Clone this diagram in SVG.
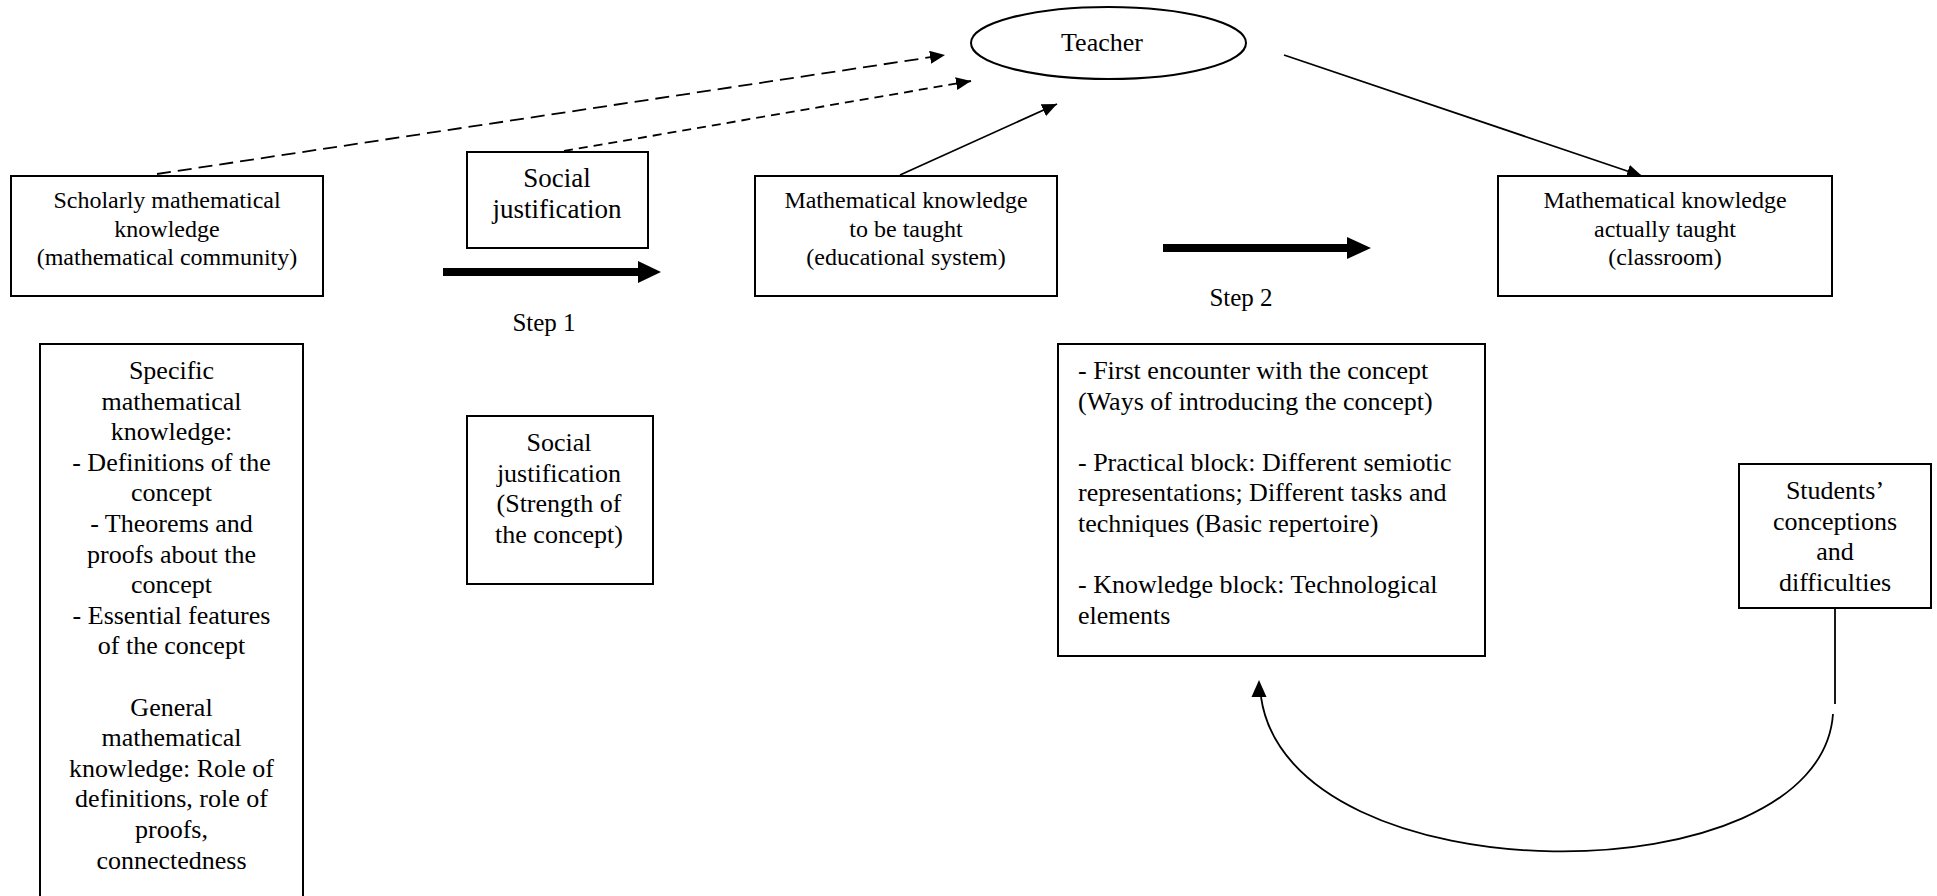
<svg xmlns="http://www.w3.org/2000/svg" width="1937" height="896" viewBox="0 0 1937 896" font-family="'Liberation Serif', 'Times New Roman', Times, serif">
<style>
text{font-family:'Liberation Serif','Times New Roman',Times,serif;fill:#000}
.box{fill:#fff;stroke:#000;stroke-width:2}
.c{text-anchor:middle}
.s24{font-size:24px}
.s25{font-size:25px}
.s26{font-size:26px}
.s27{font-size:27px}
.ln{fill:none;stroke:#000;stroke-width:1.8}
.dl{stroke-dasharray:14 7}
.ds{stroke-dasharray:9 6}
</style>
<defs>
<marker id="ah" markerUnits="userSpaceOnUse" markerWidth="16" markerHeight="13" refX="15" refY="6.5" orient="auto">
<path d="M0,0 L15,6.5 L0,13 z" fill="#000"/>
</marker>
</defs>
<rect width="1937" height="896" fill="#fff"/>

<g id="connectors">
<line class="ln dl" x1="157" y1="174" x2="945" y2="55" marker-end="url(#ah)"/>
<line class="ln ds" x1="564" y1="151" x2="971" y2="81" marker-end="url(#ah)"/>
<line class="ln" x1="900" y1="175" x2="1057" y2="104" marker-end="url(#ah)"/>
<line class="ln" x1="1284" y1="55" x2="1642" y2="176" marker-end="url(#ah)"/>
<path id="step1-arrow" d="M443,268 L638,268 L638,261 L661,272 L638,283 L638,276 L443,276 z" fill="#000"/>
<path id="step2-arrow" d="M1163,244 L1347,244 L1347,237 L1371,248 L1347,259 L1347,252 L1163,252 z" fill="#000"/>
<line class="ln" x1="1835" y1="608" x2="1835" y2="704"/>
<path class="ln" d="M1833,714 C1820,900 1290,900 1261,697"/>
<polygon points="1259,680 1251.5,697 1266.5,697" fill="#000"/>
</g>

<g id="teacher">
<ellipse cx="1108.5" cy="43" rx="137.5" ry="36" fill="#fff" stroke="#000" stroke-width="2"/>
<text class="c s26" x="1102" y="51">Teacher</text>
</g>

<g id="scholarly">
<rect class="box" x="11" y="176" width="312" height="120"/>
<text class="c s24" x="167" y="208">Scholarly mathematical</text>
<text class="c s24" x="167" y="236.5">knowledge</text>
<text class="c s24" x="167" y="265">(mathematical community)</text>
</g>

<g id="social-top">
<rect class="box" x="467" y="152" width="181" height="96"/>
<text class="c s27" x="557" y="187">Social</text>
<text class="c s27" x="557" y="218">justification</text>
</g>

<g id="to-be-taught">
<rect class="box" x="755" y="176" width="302" height="120"/>
<text class="c s24" x="906" y="208">Mathematical knowledge</text>
<text class="c s24" x="906" y="236.5">to be taught</text>
<text class="c s24" x="906" y="265">(educational system)</text>
</g>

<g id="actually-taught">
<rect class="box" x="1498" y="176" width="334" height="120"/>
<text class="c s24" x="1665" y="208">Mathematical knowledge</text>
<text class="c s24" x="1665" y="236.5">actually taught</text>
<text class="c s24" x="1665" y="265">(classroom)</text>
</g>

<g id="step-labels">
<text class="c s25" x="544" y="331">Step 1</text>
<text class="c s25" x="1241" y="306">Step 2</text>
</g>

<g id="specific-knowledge">
<rect class="box" x="40" y="344" width="263" height="560"/>
<text class="c s26" x="171.5" y="379">Specific</text>
<text class="c s26" x="171.5" y="409.6">mathematical</text>
<text class="c s26" x="171.5" y="440.2">knowledge:</text>
<text class="c s26" x="171.5" y="470.8">- Definitions of the</text>
<text class="c s26" x="171.5" y="501.4">concept</text>
<text class="c s26" x="171.5" y="532">- Theorems and</text>
<text class="c s26" x="171.5" y="562.6">proofs about the</text>
<text class="c s26" x="171.5" y="593.2">concept</text>
<text class="c s26" x="171.5" y="623.8">- Essential features</text>
<text class="c s26" x="171.5" y="654.4">of the concept</text>
<text class="c s26" x="171.5" y="715.6">General</text>
<text class="c s26" x="171.5" y="746.2">mathematical</text>
<text class="c s26" x="171.5" y="776.8">knowledge: Role of</text>
<text class="c s26" x="171.5" y="807.4">definitions, role of</text>
<text class="c s26" x="171.5" y="838">proofs,</text>
<text class="c s26" x="171.5" y="868.6">connectedness</text>
</g>

<g id="social-bottom">
<rect class="box" x="467" y="416" width="186" height="168"/>
<text class="c s26" x="559" y="451">Social</text>
<text class="c s26" x="559" y="481.6">justification</text>
<text class="c s26" x="559" y="512.2">(Strength of</text>
<text class="c s26" x="559" y="542.8">the concept)</text>
</g>

<g id="step2-content">
<rect class="box" x="1058" y="344" width="427" height="312"/>
<text class="s26" x="1078" y="379">- First encounter with the concept</text>
<text class="s26" x="1078" y="409.6">(Ways of introducing the concept)</text>
<text class="s26" x="1078" y="470.8">- Practical block: Different semiotic</text>
<text class="s26" x="1078" y="501.4">representations; Different tasks and</text>
<text class="s26" x="1078" y="532">techniques (Basic repertoire)</text>
<text class="s26" x="1078" y="593.2">- Knowledge block: Technological</text>
<text class="s26" x="1078" y="623.8">elements</text>
</g>

<g id="students">
<rect class="box" x="1739" y="464" width="192" height="144"/>
<text class="c s26" x="1835" y="499">Students’</text>
<text class="c s26" x="1835" y="529.6">conceptions</text>
<text class="c s26" x="1835" y="560.2">and</text>
<text class="c s26" x="1835" y="590.8">difficulties</text>
</g>
</svg>
